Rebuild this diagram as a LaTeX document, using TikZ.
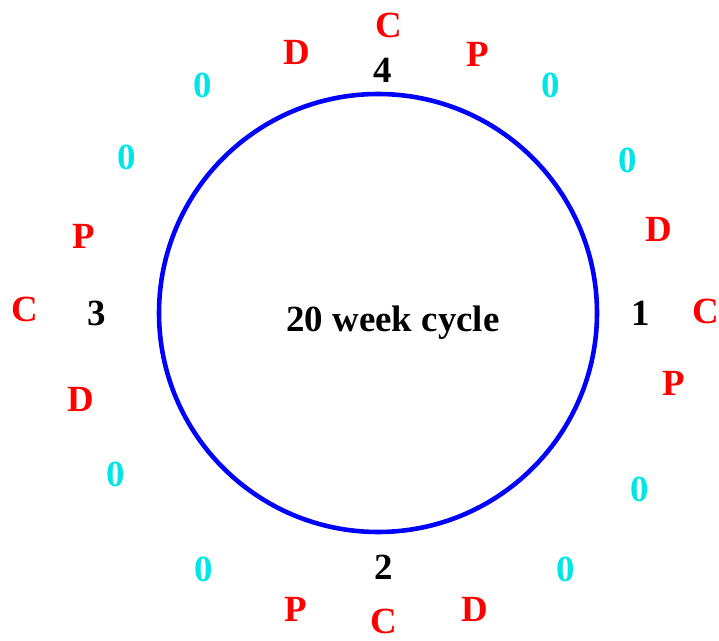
\documentclass[tikz,border=0pt]{standalone}
\usepackage{fontspec}
\setmainfont{Liberation Serif}
\usepackage{tikz}
\definecolor{zerocol}{RGB}{0,230,230}

\begin{document}
\begin{tikzpicture}[x=0.02cm,y=-0.02cm,
	lab/.style={font=\bfseries\fontsize{21}{21}\selectfont, inner sep=0pt},
	wk/.style={lab, black},
	ev/.style={lab, red},
	nul/.style={lab, zerocol}]
	\useasboundingbox (0,0) rectangle (719,641);
	
	\draw[blue, line width=2.6pt] (378,313) circle (219);
	\node[lab] (T) at (393,323) {20 week cycle};
	
	% week numbers
	\node[wk] (W4) at (383,70) {4};
	\node[wk] (W1) at (641,313) {1};
	\node[wk] (W2) at (384,567) {2};
	\node[wk] (W3) at (97,313) {3};
	
	% top
	\node[ev] (C4) at (389,25) {C};
	\node[ev] (D4) at (297,52) {D};
	\node[ev] (P4) at (478,54) {P};
	\node[nul] (Z1) at (203,85) {0};
	\node[nul] (Z2) at (551,85) {0};
	\node[nul] (Z3) at (127,157) {0};
	\node[nul] (Z4) at (628,160) {0};
	
	% sides
	\node[ev] (P3) at (84,236) {P};
	\node[ev] (D1) at (659,229) {D};
	\node[ev] (C3) at (25,309) {C};
	\node[ev] (C1) at (706,311) {C};
	\node[ev] (D3) at (81,399) {D};
	\node[ev] (P1) at (674,383) {P};
	\node[nul] (Z5) at (116,474) {0};
	\node[nul] (Z6) at (640,489) {0};
	
	% bottom
	\node[nul] (Z7) at (204,569) {0};
	\node[nul] (Z8) at (566,569) {0};
	\node[ev] (P2) at (296,609) {P};
	\node[ev] (C2) at (384,621) {C};
	\node[ev] (D2) at (475,609) {D};
\end{tikzpicture}
\end{document}
